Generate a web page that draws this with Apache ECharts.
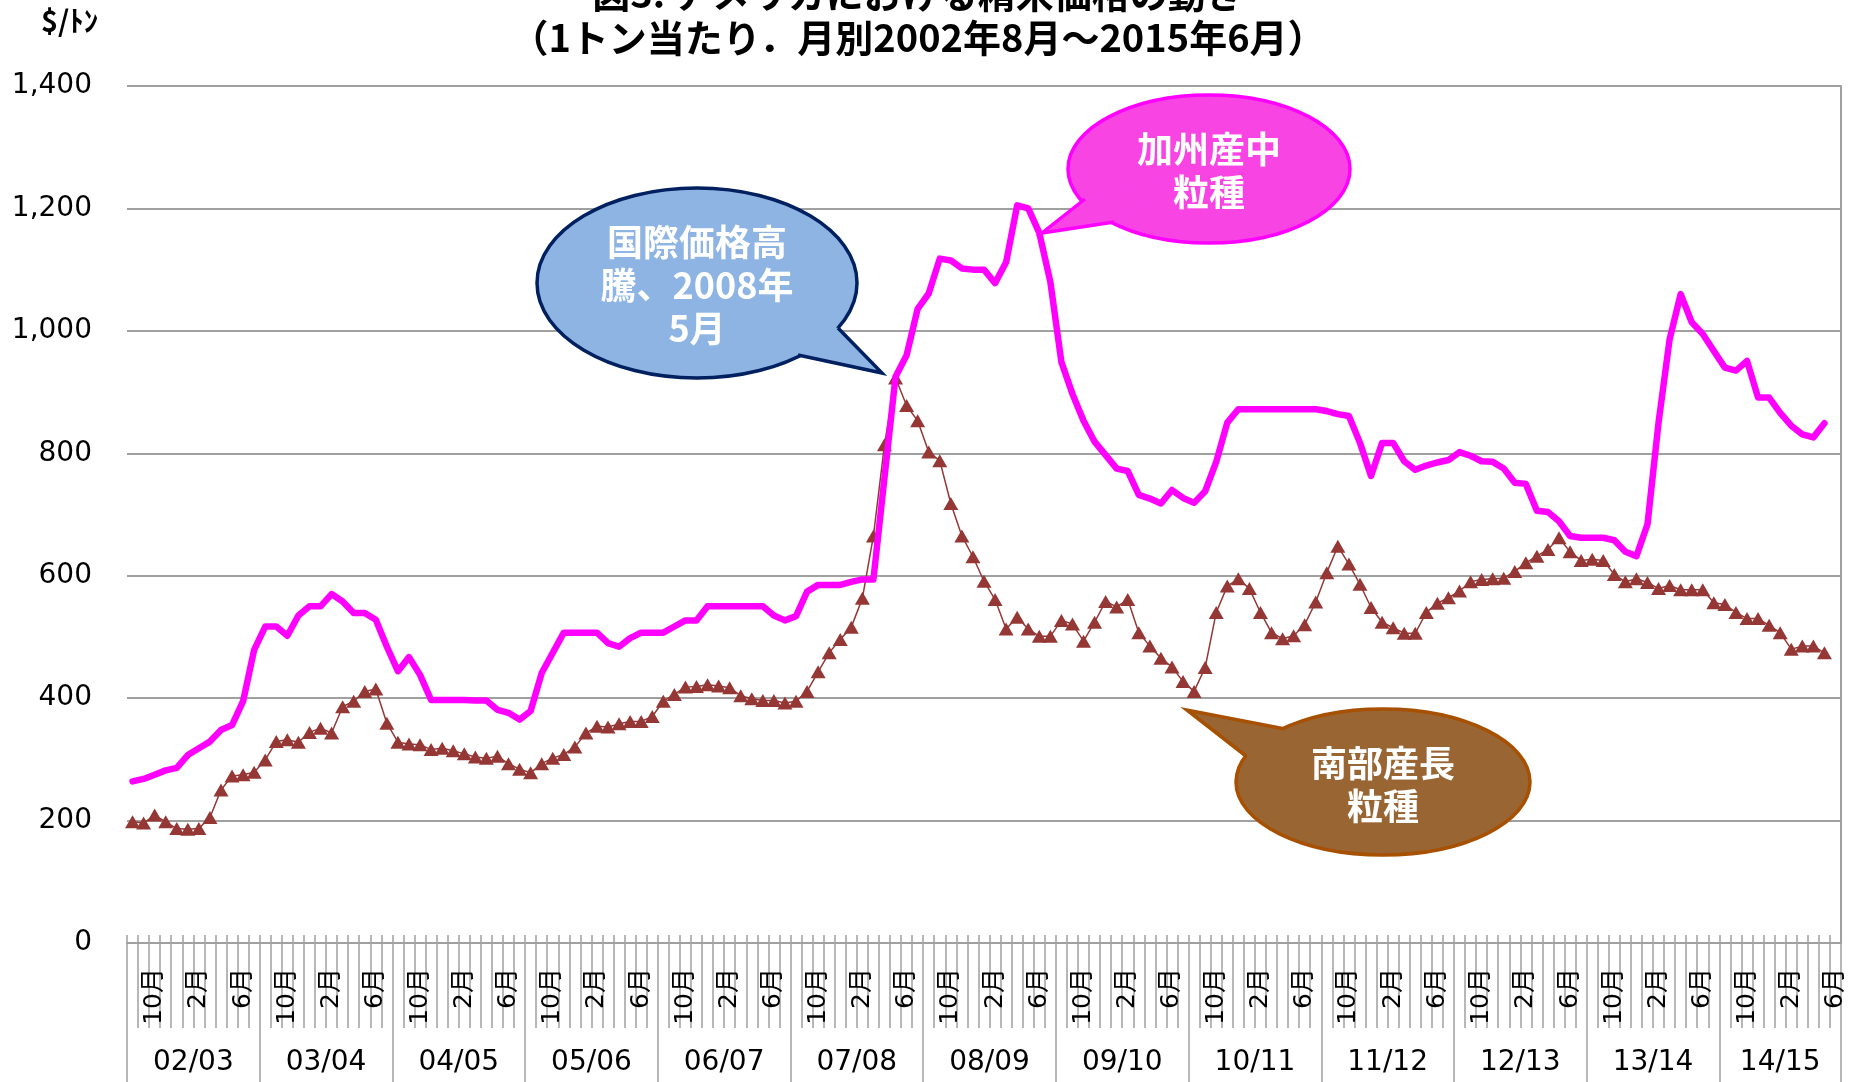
<!DOCTYPE html>
<html>
<head>
<meta charset="utf-8">
<title>アメリカにおける精米価格の動き</title>
<script src="https://cdn.jsdelivr.net/npm/echarts@6/dist/echarts.min.js"></script>
<style>
  html, body { margin: 0; padding: 0; background: #fff; }
  #chart { width: 1849px; height: 1082px; }
</style>
</head>
<body>
<div id="chart"></div>
<script>
// 月ラベル（8月始まりの米穀年度）
const monthNames = ['8月', '9月', '10月', '11月', '12月', '1月', '2月', '3月', '4月', '5月', '6月', '7月']
const cropYears = ['02/03', '03/04', '04/05', '05/06', '06/07', '07/08', '08/09',
  '09/10', '10/11', '11/12', '12/13', '13/14', '14/15']
const monthCount = 155 // 2002年8月～2015年6月
const yTicks = [0, 200, 400, 600, 800, 1000, 1200, 1400]

// 加州産中粒種 ($/トン)
const calMedium = [
  264, 268, 275, 282, 286, 307, 318, 329, 348, 356, 395, 479,
  517, 517, 502, 535, 550, 550, 570, 558, 539, 539, 528, 484,
  444, 467, 438, 397, 397, 397, 397, 396, 396, 381, 376, 365,
  379, 441, 474, 507, 507, 507, 507, 490, 484, 498, 507, 507,
  507, 517, 527, 527, 550, 550, 550, 550, 550, 550, 535, 527,
  534, 574, 585, 585, 585, 590, 594, 594, 760, 925, 960, 1036,
  1061, 1118, 1115, 1102, 1100, 1100, 1078, 1112, 1205, 1200, 1160, 1080,
  949, 897, 853, 819, 797, 775, 771, 732, 726, 718, 740, 727,
  719, 738, 786, 850, 872, 872, 872, 872, 872, 872, 872, 872,
  869, 864, 861, 817, 763, 817, 817, 787, 773, 780, 785, 789,
  802, 796, 787, 786, 775, 752, 750, 706, 704, 689, 665, 662,
  662, 662, 658, 639, 632, 684, 850, 986, 1060, 1014, 995, 967,
  940, 935, 951, 891, 891, 866, 845, 831, 826, 849, null
]

// 南部産長粒種 ($/トン)
const southLong = [
  198, 196, 209, 198, 187, 186, 187, 205, 250, 273, 275, 279,
  299, 329, 332, 328, 344, 351, 343, 386, 395, 411, 415, 359,
  328, 325, 324, 316, 318, 314, 309, 304, 302, 305, 293, 284,
  278, 293, 302, 308, 320, 343, 354, 353, 358, 362, 362, 370,
  395, 406, 418, 419, 422, 420, 417, 404, 399, 396, 396, 392,
  395, 411, 443, 474, 496, 516, 563, 665, 814, 923, 878, 853,
  802, 788, 718, 665, 631, 591, 561, 513, 532, 513, 501, 501,
  527, 521, 493, 524, 558, 549, 561, 507, 485, 465, 451, 427,
  411, 450, 540, 583, 595, 579, 540, 507, 497, 502, 520, 557,
  605, 648, 619, 586, 548, 524, 515, 506, 506, 540, 555, 564,
  575, 590, 594, 595, 596, 607, 621, 632, 643, 662, 639, 625,
  627, 625, 602, 590, 595, 589, 579, 584, 577, 577, 577, 556,
  553, 540, 530, 530, 519, 507, 480, 485, 485, 474, null
]

const categories = []
for (let i = 0; i < monthCount; i++) {
  categories.push(monthNames[i % 12])
}
// 年度の区切りと年度ラベルの位置（月数単位）
const yearEdges = []
const yearCenters = []
for (let k = 0; k < cropYears.length; k++) {
  const start = k * 12
  const end = Math.min(start + 12, monthCount)
  yearEdges.push(start)
  yearCenters.push((start + end) / 2)
}
yearEdges.push(monthCount)

const gray = '#a0a0a0'
const numFont = '"DejaVu Sans", "Noto Sans CJK JP", sans-serif'
const jpFont = '"Noto Sans CJK JP", "DejaVu Sans", sans-serif'

function bubble(cx, cy, rx, ry, tip, base1, base2, fill, stroke, text, textY) {
  return [
    {
      type: 'ellipse',
      z: 100,
      shape: { cx: cx, cy: cy, rx: rx, ry: ry },
      style: { fill: fill, stroke: stroke, lineWidth: 3.5 }
    },
    {
      type: 'polygon',
      z: 101,
      shape: { points: [base1, tip, base2, [cx, cy]] },
      style: { fill: fill }
    },
    {
      type: 'polyline',
      z: 102,
      shape: { points: [base1, tip, base2] },
      style: { stroke: stroke, lineWidth: 3.5, fill: null, lineJoin: 'miter' }
    },
    {
      type: 'text',
      z: 103,
      style: {
        text: text,
        x: cx,
        y: textY,
        fill: '#ffffff',
        fontSize: 36,
        fontWeight: 'bold',
        fontFamily: jpFont,
        lineHeight: 43,
        textAlign: 'center',
        textVerticalAlign: 'middle'
      }
    }
  ]
}

const chart = echarts.init(document.getElementById('chart'))
chart.setOption({
  animation: false,
  backgroundColor: '#ffffff',
  title: {
    text: '図3. アメリカにおける精米価格の動き\n（1トン当たり．月別2002年8月～2015年6月）',
    left: 918,
    top: -28,
    textAlign: 'center',
    padding: 0,
    textStyle: {
      fontFamily: jpFont,
      fontSize: 38,
      fontWeight: 'bold',
      color: '#000',
      lineHeight: 44
    }
  },
  grid: {
    left: 127,
    right: 8,
    top: 86,
    bottom: 139,
    containLabel: false
  },
  xAxis: [
    {
      type: 'category',
      data: categories,
      position: 'bottom',
      boundaryGap: true,
      axisLine: { show: true, onZero: false, lineStyle: { color: gray, width: 2 } },
      axisTick: { show: true, interval: 0, length: 85, lineStyle: { color: gray, width: 1.5 } },
      axisLabel: {
        interval: function (index) { return index % 4 === 2 },
        rotate: 90,
        margin: 25,
        fontSize: 25,
        fontFamily: numFont,
        color: '#000'
      },
      splitLine: { show: false }
    },
    {
      type: 'category',
      data: categories,
      position: 'bottom',
      boundaryGap: true,
      axisLine: { show: false },
      axisTick: { show: true, inside: true, interval: 0, length: 8, lineStyle: { color: gray, width: 1.5 } },
      axisLabel: { show: false },
      splitLine: { show: false }
    },
    {
      type: 'value',
      position: 'bottom',
      min: 0,
      max: monthCount,
      axisLine: { show: false },
      axisTick: {
        show: true,
        customValues: yearEdges,
        length: 150,
        lineStyle: { color: gray, width: 1.5 }
      },
      axisLabel: {
        show: true,
        customValues: yearCenters,
        margin: 106,
        fontSize: 28,
        fontFamily: numFont,
        color: '#000',
        formatter: function (v) { return cropYears[Math.floor(v / 12)] }
      },
      splitLine: { show: false }
    }
  ],
  yAxis: [
    {
      type: 'value',
      min: yTicks[0],
      max: yTicks[yTicks.length - 1],
      interval: 200,
      axisLine: { show: false },
      axisTick: { show: false },
      axisLabel: {
        margin: 35,
        fontSize: 28,
        fontFamily: numFont,
        color: '#000',
        formatter: function (v) { return v.toLocaleString('en-US') }
      },
      splitLine: { show: true, lineStyle: { color: gray, width: 2 } }
    },
    {
      type: 'value',
      position: 'right',
      min: yTicks[0],
      max: yTicks[yTicks.length - 1],
      interval: 200,
      axisLine: { show: true, lineStyle: { color: gray, width: 2 } },
      axisTick: { show: false },
      axisLabel: { show: false },
      splitLine: { show: false }
    }
  ],
  series: [
    {
      name: '南部産長粒種',
      type: 'line',
      xAxisIndex: 0,
      yAxisIndex: 0,
      data: southLong,
      symbol: 'triangle',
      symbolSize: [15, 13],
      showAllSymbol: true,
      itemStyle: { color: '#953735' },
      lineStyle: { color: '#953735', width: 1.5 },
      z: 3
    },
    {
      name: '加州産中粒種',
      type: 'line',
      xAxisIndex: 0,
      yAxisIndex: 0,
      data: calMedium,
      symbol: 'none',
      lineStyle: { color: '#ff00ff', width: 6.5, cap: 'round', join: 'round' },
      z: 4
    }
  ],
  graphic: [
    {
      type: 'text',
      left: 41,
      top: 6,
      style: {
        text: '$/ﾄﾝ',
        fontSize: 29,
        fontWeight: 'bold',
        fontFamily: jpFont,
        fill: '#000'
      }
    }
  ].concat(
    bubble(697, 283, 160, 95, [882, 373], [838, 328], [798, 355],
      '#8eb4e3', '#002060', '国際価格高\n騰、2008年\n5月', 285),
    bubble(1209, 169, 141, 74, [1042, 233], [1085, 199], [1114, 222],
      '#f944e4', '#ff00ff', '加州産中\n粒種', 171),
    bubble(1383, 782, 147, 73, [1187, 710], [1285, 729], [1246, 756],
      '#996633', '#a65000', '南部産長\n粒種', 785)
  )
})
</script>
</body>
</html>
